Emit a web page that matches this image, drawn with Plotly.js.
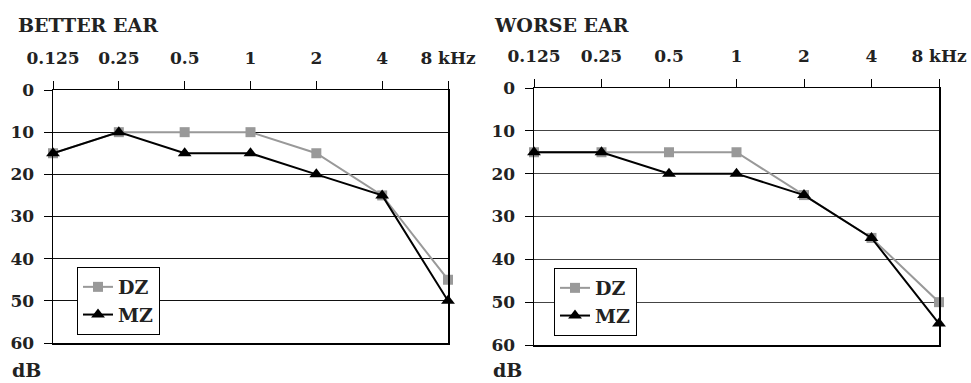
<!DOCTYPE html>
<html><head><meta charset="utf-8">
<script src="https://cdn.plot.ly/plotly-3.0.1.min.js"></script>
<style>html,body{margin:0;padding:0;background:#fff}</style>
</head><body>
<div id="chart" style="width:971px;height:383px"></div>
<script>
const freqLabels = ['0.125','0.25','0.5','1','2','4','8 kHz'];
const freqIdx = [0,1,2,3,4,5,6];
const betterDZ = [15,10,10,10,15,25,45];
const betterMZ = [15,10,15,15,20,25,50];
const worseDZ = [15,15,15,15,25,35,50];
const worseMZ = [15,15,20,20,25,35,55];
const yTicks = [0,10,20,30,40,50,60];

const W = 971, H = 383;
const px = v => v / W, py = v => 1 - v / H;
const FONT = {family:'DejaVu Serif', size:17, color:'#222', weight:'bold'};
const TFONT = {family:'DejaVu Serif', size:19, color:'#222', weight:'bold'};
const LFONT = {family:'DejaVu Serif', size:19, color:'#222', weight:'bold'};
const GRAY = '#999999';

function tr(y, name, color, symbol, size, xa, ya, leg){
  return {x:freqIdx, y:y, name:name, type:'scatter', mode:'lines+markers',
    line:{color:color, width:2}, marker:{color:color, symbol:symbol, size:size},
    xaxis:xa, yaxis:ya, legend:leg, cliponaxis:false};
}
const data = [
  tr(betterDZ,'DZ',GRAY,'square',10,'x','y','legend'),
  tr(betterMZ,'MZ','#000','triangle-up',12,'x','y','legend'),
  tr(worseDZ,'DZ',GRAY,'square',10,'x2','y2','legend2'),
  tr(worseMZ,'MZ','#000','triangle-up',12,'x2','y2','legend2')
];
function xax(d, anchor){
  return {domain:d, anchor:anchor, range:[0,6], side:'top', tickvals:freqIdx, ticktext:freqLabels,
    ticks:'outside', ticklen:8, tickcolor:'#000', tickwidth:1, showline:true, linecolor:'#000', linewidth:1.5,
    mirror:true, showgrid:false, zeroline:false, tickfont:FONT, ticklabelstandoff:10, fixedrange:true};
}
function yax(d, anchor, gc){
  return {domain:d, anchor:anchor, range:[60,0], tickvals:yTicks, ticks:'outside', ticklen:8,
    tickcolor:'#000', tickwidth:1, showline:true, linecolor:'#000', linewidth:1.5, mirror:true,
    showgrid:true, gridcolor:gc, gridwidth:1, zeroline:false, tickfont:FONT, ticklabelstandoff:6, fixedrange:true};
}
const legendBase = {bgcolor:'#fff', bordercolor:'#000', borderwidth:1, font:LFONT,
  xanchor:'left', yanchor:'top', tracegroupgap:0, itemwidth:30};
const layout = {
  width:W, height:H, margin:{l:0,r:0,t:0,b:0}, paper_bgcolor:'#fff', plot_bgcolor:'#fff',
  showlegend:true,
  xaxis: xax([px(53), px(448)], 'y'),
  yaxis: yax([py(343), py(90)], 'x', '#111'),
  xaxis2: xax([px(534), px(939)], 'y2'),
  yaxis2: yax([py(345), py(88)], 'x2', '#444'),
  legend: Object.assign({x:px(77), y:py(267)}, legendBase),
  legend2: Object.assign({x:px(554), y:py(268)}, legendBase),
  annotations:[
    {text:'BETTER EAR', x:px(16), y:py(38), xref:'paper', yref:'paper', xanchor:'left', yanchor:'bottom', showarrow:false, font:TFONT},
    {text:'WORSE EAR', x:px(492), y:py(38), xref:'paper', yref:'paper', xanchor:'left', yanchor:'bottom', showarrow:false, font:TFONT},
    {text:'dB', x:px(10), y:py(383), xref:'paper', yref:'paper', xanchor:'left', yanchor:'bottom', showarrow:false, font:TFONT},
    {text:'dB', x:px(491), y:py(383), xref:'paper', yref:'paper', xanchor:'left', yanchor:'bottom', showarrow:false, font:TFONT}
  ]
};
Plotly.newPlot('chart', data, layout, {staticPlot:true, displayModeBar:false});
</script>
</body></html>
